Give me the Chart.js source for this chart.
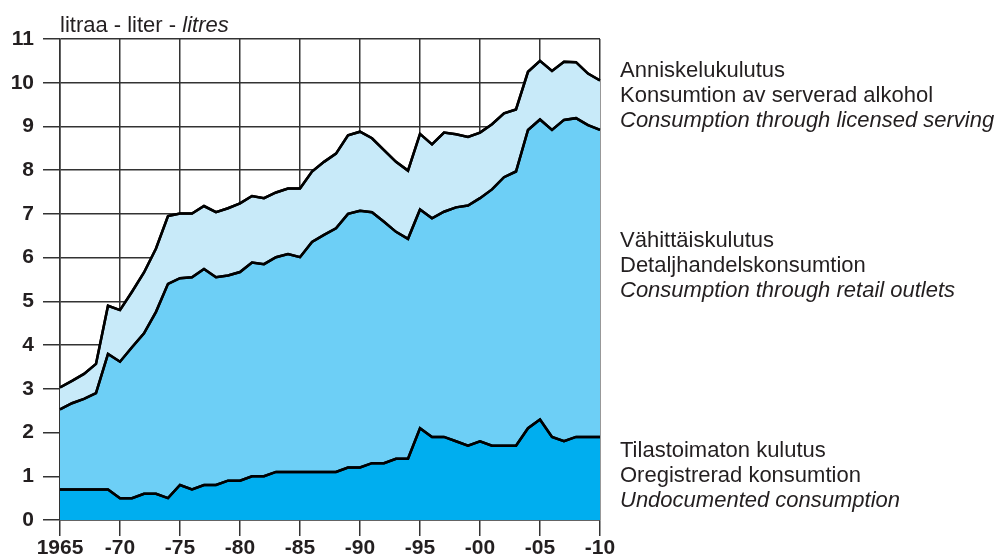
<!DOCTYPE html>
<html>
<head>
<meta charset="utf-8">
<script src="https://cdn.jsdelivr.net/npm/chart.js@4/dist/chart.umd.min.js"></script>
<style>
    body { margin: 0; background: #fff; }
    #wrap { position: relative; width: 995px; height: 557px; font-family: 'Liberation Sans', Arial, sans-serif; color: #231f20; }
    #chart { position: absolute; left: 0; top: 0; }
    .txt { position: absolute; font-size: 22px; line-height: 25px; white-space: nowrap; }
</style>
</head>
<body>
<div id="wrap">
    <canvas id="chart" width="995" height="557"></canvas>
    <div class="txt" style="left:60px; top:12px;">litraa - liter - <i>litres</i></div>
    <div class="txt" style="left:620px; top:57px;">Anniskelukulutus<br>Konsumtion av serverad alkohol<br><i>Consumption through licensed serving</i></div>
    <div class="txt" style="left:620px; top:227px;">Vähittäiskulutus<br>Detaljhandelskonsumtion<br><i>Consumption through retail outlets</i></div>
    <div class="txt" style="left:620px; top:437px;">Tilastoimaton kulutus<br>Oregistrerad konsumtion<br><i>Undocumented consumption</i></div>
</div>
<script>
const years = [1965, 1966, 1967, 1968, 1969, 1970, 1971, 1972, 1973, 1974,
    1975, 1976, 1977, 1978, 1979, 1980, 1981, 1982, 1983, 1984,
    1985, 1986, 1987, 1988, 1989, 1990, 1991, 1992, 1993, 1994,
    1995, 1996, 1997, 1998, 1999, 2000, 2001, 2002, 2003, 2004,
    2005, 2006, 2007, 2008, 2009, 2010];

// litres per capita, stacked from the bottom up
const undocumented = [0.70, 0.70, 0.70, 0.70, 0.70, 0.50, 0.50, 0.60, 0.60, 0.50,
    0.80, 0.70, 0.80, 0.80, 0.90, 0.90, 1.00, 1.00, 1.10, 1.10,
    1.10, 1.10, 1.10, 1.10, 1.20, 1.20, 1.30, 1.30, 1.40, 1.40,
    2.10, 1.90, 1.90, 1.80, 1.70, 1.80, 1.70, 1.70, 1.70, 2.10,
    2.30, 1.90, 1.80, 1.90, 1.90, 1.90];
const retail = [1.83, 1.97, 2.07, 2.20, 3.10, 3.12, 3.45, 3.67, 4.16, 4.90,
    4.73, 4.85, 4.94, 4.75, 4.69, 4.77, 4.89, 4.85, 4.91, 4.98,
    4.91, 5.26, 5.42, 5.57, 5.80, 5.87, 5.74, 5.52, 5.19, 5.03,
    5.00, 5.00, 5.15, 5.35, 5.49, 5.56, 5.86, 6.14, 6.27, 6.82,
    6.86, 7.02, 7.35, 7.29, 7.13, 7.02];
const licensed = [0.50, 0.51, 0.57, 0.67, 1.10, 1.18, 1.27, 1.39, 1.45, 1.55,
    1.48, 1.46, 1.44, 1.49, 1.54, 1.57, 1.52, 1.51, 1.48, 1.50,
    1.57, 1.61, 1.67, 1.71, 1.80, 1.81, 1.69, 1.64, 1.60, 1.56,
    1.73, 1.69, 1.81, 1.67, 1.57, 1.50, 1.49, 1.46, 1.42, 1.33,
    1.34, 1.35, 1.33, 1.28, 1.18, 1.13];

const tickYears = [1965, 1970, 1975, 1980, 1985, 1990, 1995, 2000, 2005, 2010];
const tickLabels = ['1965', '-70', '-75', '-80', '-85', '-90', '-95', '-00', '-05', '-10'];

const gridColor = '#333333';
const lineColor = '#000000';

function toPoints(values) {
    return values.map((v, i) => ({ x: years[i], y: v }));
}

// redraw the series outlines above the grid
const linesOnTop = {
    id: 'linesOnTop',
    afterDraw(chart) {
        const ctx = chart.ctx;
        const area = chart.chartArea;
        ctx.save();
        ctx.beginPath();
        ctx.rect(area.left - 2, area.top - 2, area.right - area.left + 4, area.bottom - area.top + 4);
        ctx.clip();
        chart.data.datasets.forEach((ds, i) => {
            const meta = chart.getDatasetMeta(i);
            if (meta.dataset) meta.dataset.draw(ctx, area);
        });
        ctx.restore();
    }
};

new Chart(document.getElementById('chart').getContext('2d'), {
    type: 'line',
    data: {
        datasets: [
            {
                label: 'Undocumented consumption',
                data: toPoints(undocumented),
                backgroundColor: '#00aeef',
                borderColor: lineColor,
                borderWidth: 2.5,
                fill: 'origin'
            },
            {
                label: 'Consumption through retail outlets',
                data: toPoints(retail),
                backgroundColor: '#6dcff6',
                borderColor: lineColor,
                borderWidth: 2.5,
                fill: '-1'
            },
            {
                label: 'Consumption through licensed serving',
                data: toPoints(licensed),
                backgroundColor: '#c8eaf9',
                borderColor: lineColor,
                borderWidth: 2.5,
                fill: '-1'
            }
        ]
    },
    options: {
        responsive: false,
        animation: false,
        layout: { padding: { top: 39, right: 395, left: 0, bottom: 0 } },
        elements: {
            point: { radius: 0 },
            line: { tension: 0, borderJoinStyle: 'miter' }
        },
        plugins: {
            legend: { display: false },
            tooltip: { enabled: false }
        },
        scales: {
            x: {
                type: 'linear',
                min: 1965,
                max: 2010,
                z: 1,
                afterBuildTicks: scale => { scale.ticks = tickYears.map(v => ({ value: v })); },
                afterFit: scale => { scale.height = 37; },
                ticks: {
                    color: '#231f20',
                    padding: 0,
                    maxRotation: 0,
                    autoSkip: false,
                    font: { family: 'Liberation Sans', size: 21, weight: 'bold' },
                    callback: v => tickLabels[tickYears.indexOf(v)]
                },
                grid: { color: gridColor, lineWidth: 1.5, tickLength: 16 },
                border: { color: gridColor, width: 1.5 }
            },
            y: {
                stacked: true,
                min: 0,
                max: 11,
                z: 1,
                afterFit: scale => { scale.width = 60; },
                ticks: {
                    stepSize: 1,
                    color: '#231f20',
                    padding: 9,
                    font: { family: 'Liberation Sans', size: 21, weight: 'bold' }
                },
                grid: { color: gridColor, lineWidth: 1.5, tickLength: 17 },
                border: { color: gridColor, width: 1.5 }
            }
        }
    },
    plugins: [linesOnTop]
});
</script>
</body>
</html>
